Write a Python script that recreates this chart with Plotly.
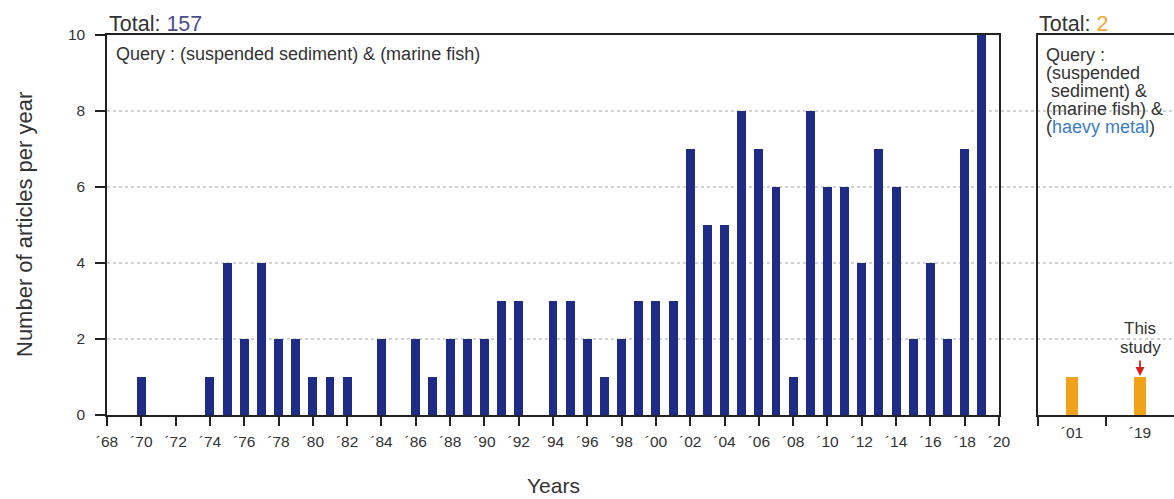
import plotly.graph_objects as go

# ---- data ----
years = [1970, 1974, 1975, 1976, 1977, 1978, 1979, 1980, 1981, 1982, 1984, 1986, 1987,
         1988, 1989, 1990, 1991, 1992, 1994, 1995, 1996, 1997, 1998, 1999, 2000, 2001,
         2002, 2003, 2004, 2005, 2006, 2007, 2008, 2009, 2010, 2011, 2012, 2013, 2014,
         2015, 2016, 2017, 2018, 2019]
counts = [1, 1, 4, 2, 4, 2, 2, 1, 1, 1, 2, 2, 1,
          2, 2, 2, 3, 3, 3, 3, 2, 1, 2, 3, 3, 3,
          7, 5, 5, 8, 7, 6, 1, 8, 6, 6, 4, 7, 6,
          2, 4, 2, 7, 10]
tick_years = list(range(1968, 2021, 2))
tick_labels = ["´%02d" % (y % 100) for y in tick_years]

heavy_cats = ["´01", "´19"]
heavy_counts = [1, 1]

y_ticks = [0, 2, 4, 6, 8, 10]
grid_levels = [2, 4, 6, 8]

query_right_lines = ["Query :", "(suspended", "&nbsp;sediment) &amp;", "(marine fish) &amp;",
                     "(<span style='color:#3a7dc2'>haevy metal</span>)"]

FONT = "Arial, Liberation Sans, sans-serif"
NAVY = "#1f2c85"
ORANGE = "#f0a21a"
AXC = "#222222"
TXT = "#333333"

fig = go.Figure()
fig.add_trace(go.Bar(x=years, y=counts, width=0.52, marker=dict(color=NAVY, line=dict(width=0)),
                     xaxis="x", yaxis="y", showlegend=False))
fig.add_trace(go.Bar(x=heavy_cats, y=heavy_counts, width=0.19, marker=dict(color=ORANGE, line=dict(width=0)),
                     xaxis="x2", yaxis="y2", showlegend=False))

W, H = 1174, 499
ml, mr, mt, mb = 107, 0, 35, 84
pw = W - ml - mr
left_end = (999 - ml) / pw
right_start = (1038 - ml) / pw

fig.update_layout(
    width=W, height=H,
    margin=dict(l=ml, r=mr, t=mt, b=mb, autoexpand=False),
    paper_bgcolor="white", plot_bgcolor="rgba(0,0,0,0)",
    font=dict(family=FONT, size=15.5, color=TXT),
    bargap=0,
    xaxis=dict(domain=[0, left_end], range=[1968, 2020], tickmode="array",
               tickvals=tick_years, ticktext=tick_labels, ticks="outside", ticklen=9,
               tickwidth=1.5, tickcolor=AXC, showline=True, linecolor=AXC, linewidth=1.5,
               mirror=True, showgrid=False, zeroline=False, ticklabelstandoff=3,
               automargin=False, tickfont=dict(size=15.5, color=TXT)),
    yaxis=dict(domain=[0, 1], range=[0, 10], tickmode="array", tickvals=y_ticks,
               ticks="outside", ticklen=10, tickwidth=2, tickcolor=AXC, showline=True,
               linecolor=AXC, linewidth=1.5, mirror=True, showgrid=False, zeroline=False,
               ticklabelstandoff=7, automargin=False, tickfont=dict(size=15.5, color=TXT)),
    xaxis2=dict(domain=[right_start, 1], anchor="y2", type="category",
                categoryorder="array", categoryarray=heavy_cats, range=[-0.5, 1.5],
                ticks="outside", tickson="boundaries", ticklen=9, tickwidth=1.5,
                tickcolor=AXC, showline=True, linecolor=AXC, linewidth=1.5, mirror=True,
                showgrid=False, zeroline=False, ticklabelstandoff=3, automargin=False,
                tickfont=dict(size=15.5, color=TXT)),
    yaxis2=dict(domain=[0, 1], anchor="x2", range=[0, 10], showticklabels=False,
                ticks="", showline=True, linecolor=AXC, linewidth=1.5, mirror=False,
                showgrid=False, zeroline=False, automargin=False),
)

# dotted gridlines spanning both panels
for g in grid_levels:
    fig.add_shape(type="line", xref="paper", yref="y", x0=0, x1=1, y0=g, y1=g,
                  line=dict(color="#c4c4c4", width=1.5, dash="dot"), layer="below")

anns = [
    dict(x=0, y=1, xref="paper", yref="paper", xanchor="left", yanchor="bottom",
         text="Total: <span style='color:#4a4f8c'>157</span>", showarrow=False,
         font=dict(size=21.5, color=TXT), xshift=0, yshift=-3),
    dict(x=right_start, y=1, xref="paper", yref="paper", xanchor="left", yanchor="bottom",
         text="Total: <span style='color:#f0a732'>2</span>", showarrow=False,
         font=dict(size=21.5, color=TXT), xshift=-1, yshift=-3),
    dict(x=0, y=1, xref="paper", yref="paper", xanchor="left", yanchor="top",
         text="Query : (suspended sediment) &amp; (marine fish)", showarrow=False,
         font=dict(size=18, color=TXT), xshift=7, yshift=-7),
    dict(x="´19", y=1, xref="x2", yref="y2", text=" ", showarrow=True,
         ax=0, ay=-19, arrowhead=2, arrowsize=1, arrowwidth=1.8, arrowcolor="#d42222",
         standoff=1, font=dict(size=2)),
    dict(x="´19", y=1, xref="x2", yref="y2", text="This", showarrow=False,
         yanchor="middle", yshift=48.5, font=dict(size=17, color=TXT)),
    dict(x="´19", y=1, xref="x2", yref="y2", text="study", showarrow=False,
         yanchor="middle", yshift=30, font=dict(size=17, color=TXT)),
    dict(x=left_end / 2, y=0, xref="paper", yref="paper", xanchor="center", yanchor="middle",
         text="Years", showarrow=False, font=dict(size=21, color=TXT), yshift=-70),
    dict(x=0, y=0.5, xref="paper", yref="paper", xanchor="center", yanchor="middle",
         text="Number of articles per year", textangle=-90, showarrow=False,
         font=dict(size=22, color=TXT), xshift=-83),
]
for i, line in enumerate(query_right_lines):
    anns.append(dict(x=right_start, y=1, xref="paper", yref="paper", xanchor="left",
                     yanchor="middle", text=line, showarrow=False,
                     font=dict(size=18, color=TXT), xshift=6, yshift=-20 - 18 * i))
fig.update_layout(annotations=anns)

fig.write_html("out.html")
